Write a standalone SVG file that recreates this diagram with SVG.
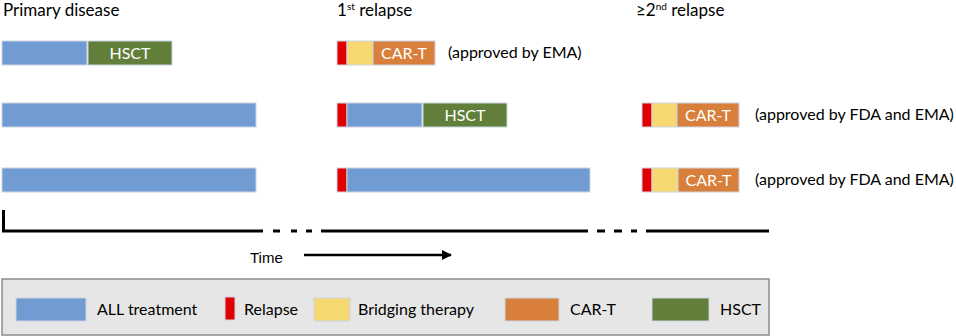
<svg xmlns="http://www.w3.org/2000/svg" width="956" height="336" viewBox="0 0 956 336">
<defs>
<style>
text{font-family:Lato,"Liberation Sans",sans-serif;font-size:16px;fill:#000}
.h{font-size:17px}
.w{fill:#fff;text-anchor:middle}
.blue{fill:#709bd3;stroke:#cdd6e2;stroke-width:1}
.red{fill:#e00000;stroke:#cdd6e2;stroke-width:1}
.yel{fill:#f5d86f;stroke:#cdd6e2;stroke-width:1}
.org{fill:#d87f3b;stroke:#cdd6e2;stroke-width:1}
.grn{fill:#617f3a;stroke:#cdd6e2;stroke-width:1}
.ax{stroke:#000;stroke-width:3;fill:none}
.sup{font-size:10px}
.tm{font-family:"Liberation Sans",Arial,sans-serif;font-size:15px}
</style>
<marker id="ah" viewBox="0 0 10 10" refX="9" refY="5" markerWidth="4" markerHeight="4" orient="auto" markerUnits="strokeWidth">
<path d="M0,0L10,5L0,10z" fill="#000"/>
</marker>
</defs>
<rect width="956" height="336" fill="#fff"/>

<g id="headers">
<text class="h" x="3" y="16">Primary disease</text>
<text class="h" x="337" y="16">1<tspan class="sup" dy="-6">st</tspan><tspan dy="6">  relapse</tspan></text>
<text class="h" x="636" y="16">≥2<tspan class="sup" dy="-6">nd</tspan><tspan dy="6">  relapse</tspan></text>
</g>

<g id="row1">
<rect class="blue" x="2" y="41" width="85" height="24"/>
<rect class="grn" x="88" y="41" width="84" height="24"/>
<text class="w" x="130" y="59">HSCT</text>
<rect class="red" x="337" y="41" width="10" height="24"/>
<rect class="yel" x="347" y="41" width="26" height="24"/>
<rect class="org" x="373" y="41" width="62" height="24"/>
<text class="w" x="404" y="59">CAR-T</text>
<text x="448" y="58">(approved by EMA)</text>
</g>

<g id="row2">
<rect class="blue" x="2" y="103" width="254" height="24"/>
<rect class="red" x="337" y="103" width="10" height="24"/>
<rect class="blue" x="347" y="103" width="75" height="24"/>
<rect class="grn" x="423" y="103" width="84" height="24"/>
<text class="w" x="465" y="121">HSCT</text>
<rect class="red" x="642" y="103" width="10" height="24"/>
<rect class="yel" x="652" y="103" width="25" height="24"/>
<rect class="org" x="677" y="103" width="62" height="24"/>
<text class="w" x="708" y="121">CAR-T</text>
<text x="755" y="120">(approved by FDA and EMA)</text>
</g>

<g id="row3">
<rect class="blue" x="2" y="168" width="254" height="24"/>
<rect class="red" x="337" y="168" width="10" height="24"/>
<rect class="blue" x="347" y="168" width="243" height="24"/>
<rect class="red" x="642" y="168" width="10" height="24"/>
<rect class="yel" x="652" y="168" width="26" height="24"/>
<rect class="org" x="678" y="168" width="61" height="24"/>
<text class="w" x="708.5" y="186">CAR-T</text>
<text x="755" y="185">(approved by FDA and EMA)</text>
</g>

<g id="connectors">
<path class="ax" d="M3.5,210V231H263"/>
<path class="ax" d="M273,231h7M291,231h6M306,231h6"/>
<path class="ax" d="M321,231H588"/>
<path class="ax" d="M597,231h8M614,231h8M631,231h6"/>
<path class="ax" d="M646,231H769"/>
<line x1="304" y1="255" x2="451" y2="255" stroke="#000" stroke-width="2.5" marker-end="url(#ah)"/>
</g>
<text class="tm" x="250" y="263">Time</text>

<g id="legend">
<rect x="2" y="279" width="767" height="56" fill="#e7e6e6" stroke="#8c8c8c" stroke-width="1.5"/>
<rect class="blue" x="16" y="298" width="70" height="23"/>
<text x="97" y="315">ALL treatment</text>
<rect class="red" x="225" y="297" width="10" height="23"/>
<text x="244" y="315">Relapse</text>
<rect class="yel" x="314" y="298" width="36" height="23"/>
<text x="358" y="315">Bridging therapy</text>
<rect class="org" x="505" y="298" width="54" height="23"/>
<text x="570" y="315">CAR-T</text>
<rect class="grn" x="652" y="298" width="57" height="23"/>
<text x="720" y="315">HSCT</text>
</g>
</svg>
